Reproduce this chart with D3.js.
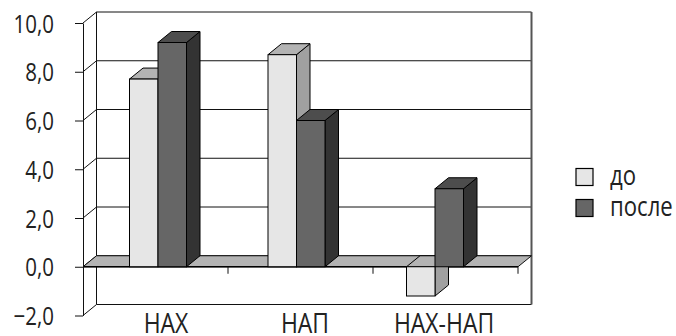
<!DOCTYPE html>
<html>
<head>
<meta charset="utf-8">
<script src="https://cdn.jsdelivr.net/npm/d3@7"></script>
<style>
  body { margin: 0; background: #fff; }
  text { font-family: "Open Sans", "Noto Sans", sans-serif; fill: #222; }
</style>
</head>
<body>
<svg width="676" height="336"></svg>
<script>
// data
var categories = ["НАХ", "НАП", "НАХ-НАП"];
var seriesNames = ["до", "после"];
var valuesDo = [7.7, 8.7, -1.2];
var valuesPosle = [9.2, 6.0, 3.2];
var yTicks = [-2, 0, 2, 4, 6, 8, 10];

// colours of the faces: front, top, side
var colors = {
  "до": {front: "#e6e6e6", top: "#b3b3b3", side: "#a0a0a0"},
  "после": {front: "#666666", top: "#4d4d4d", side: "#333333"}
};

var svg = d3.select("svg");

// depth of the 3d box
var DX = 13.5, DY = -11;
// the original font is narrow, so text is squeezed a bit
var SQ = 0.82;

var y = d3.scaleLinear().domain([-2, 10]).range([315.5, 23]);
var x = d3.scaleBand().domain(categories).range([83, 518]);

// bars sit a bit shifted because of the perspective in the original
var groupX = d3.scalePoint().domain(categories).range([129.5, 406.5]);
var barX = d3.scaleBand().domain(seriesNames).range([0, 57]);
var labelX = d3.scalePoint().domain(categories).range([166, 444]);

var left = x.range()[0], right = x.range()[1];
var y0 = y(0);

// back wall gridlines
var g = svg.append("g");
g.selectAll(".grid")
  .data(yTicks)
  .enter().append("line")
  .attr("x1", left + DX)
  .attr("x2", right + DX)
  .attr("y1", function(d) { return y(d) + DY; })
  .attr("y2", function(d) { return y(d) + DY; })
  .attr("stroke", "#111")
  .attr("stroke-width", 1);

// side wall lines
g.selectAll(".side")
  .data(yTicks)
  .enter().append("line")
  .attr("x1", left)
  .attr("x2", left + DX)
  .attr("y1", function(d) { return y(d); })
  .attr("y2", function(d) { return y(d) + DY; })
  .attr("stroke", "#111");

g.append("line")
  .attr("x1", left + DX).attr("x2", left + DX)
  .attr("y1", y(10) + DY).attr("y2", y(-2) + DY)
  .attr("stroke", "#111");

g.append("line")
  .attr("x1", right + DX).attr("x2", right + DX)
  .attr("y1", y(10) + DY).attr("y2", y(-2) + DY)
  .attr("stroke", "#555")
  .attr("stroke-width", 2);

// floor at value 0
g.append("polygon")
  .attr("points", [[left, y0], [right, y0], [right + DX, y0 + DY], [left + DX, y0 + DY]].join(" "))
  .attr("fill", "#b3b3b3")
  .attr("stroke", "#111");

g.append("line")
  .attr("x1", left).attr("x2", right)
  .attr("y1", y0).attr("y2", y0)
  .attr("stroke", "#000")
  .attr("stroke-width", 1.5);

// category ticks
g.selectAll(".xtick")
  .data(categories)
  .enter().append("line")
  .attr("x1", function(d) { return x(d) + x.bandwidth(); })
  .attr("x2", function(d) { return x(d) + x.bandwidth(); })
  .attr("y1", y0)
  .attr("y2", y0 + 7)
  .attr("stroke", "#111");

// y axis on the front plane
var yAxis = d3.axisLeft(y)
  .tickValues(yTicks)
  .tickSize(8)
  .tickSizeOuter(0)
  .tickFormat(function(d) { return d3.format(".1f")(d).replace(".", ","); });

var ax = svg.append("g")
  .attr("transform", "translate(" + left + ",0)")
  .call(yAxis);
ax.select(".domain").attr("stroke", "#111");
ax.selectAll(".tick line").attr("stroke", "#111");
ax.selectAll(".tick text")
  .attr("x", -29 / SQ)
  .attr("dy", "0.36em")
  .attr("transform", "scale(" + SQ + ",1)")
  .style("font-size", "25px")
  .attr("fill", "#222");

// bar data, one row per bar
var bars = [];
categories.forEach(function(c, i) {
  bars.push({cat: c, s: "до", v: valuesDo[i]});
  bars.push({cat: c, s: "после", v: valuesPosle[i]});
});

// every bar is a box with front, top and right side
var bar = svg.append("g").selectAll(".bar")
  .data(bars)
  .enter().append("g")
  .attr("class", "bar");

function x0(d) { return groupX(d.cat) + barX(d.s); }
function x1(d) { return x0(d) + barX.bandwidth(); }
function yTop(d) { return y(Math.max(0, d.v)); }
function yBot(d) { return y(Math.min(0, d.v)); }

bar.append("polygon")
  .attr("points", function(d) {
    return [[x1(d), yTop(d)], [x1(d) + DX, yTop(d) + DY], [x1(d) + DX, yBot(d) + DY], [x1(d), yBot(d)]].join(" ");
  })
  .attr("fill", function(d) { return colors[d.s].side; })
  .attr("stroke", "#000");

bar.append("polygon")
  .attr("points", function(d) {
    return [[x0(d), yTop(d)], [x1(d), yTop(d)], [x1(d) + DX, yTop(d) + DY], [x0(d) + DX, yTop(d) + DY]].join(" ");
  })
  .attr("fill", function(d) { return colors[d.s].top; })
  .attr("stroke", "#000");

bar.append("rect")
  .attr("x", x0)
  .attr("y", yTop)
  .attr("width", barX.bandwidth())
  .attr("height", function(d) { return yBot(d) - yTop(d); })
  .attr("fill", function(d) { return colors[d.s].front; })
  .attr("stroke", "#000");

// category labels
svg.selectAll(".cat")
  .data(categories)
  .enter().append("text")
  .attr("transform", function(d) { return "translate(" + labelX(d) + ",333) scale(" + SQ + ",1)"; })
  .attr("text-anchor", "middle")
  .style("font-size", "28px")
  .text(function(d) { return d; });

// legend
var legend = svg.selectAll(".legend")
  .data(seriesNames)
  .enter().append("g")
  .attr("transform", function(d, i) { return "translate(576," + (168.5 + i * 31) + ")"; });

legend.append("rect")
  .attr("width", 17)
  .attr("height", 17)
  .attr("fill", function(d) { return colors[d].front; })
  .attr("stroke", "#000")
  .attr("stroke-width", 1.2);

legend.append("text")
  .attr("transform", "translate(34,16) scale(" + SQ + ",1)")
  .style("font-size", "27px")
  .text(function(d) { return d; });
</script>
</body>
</html>
